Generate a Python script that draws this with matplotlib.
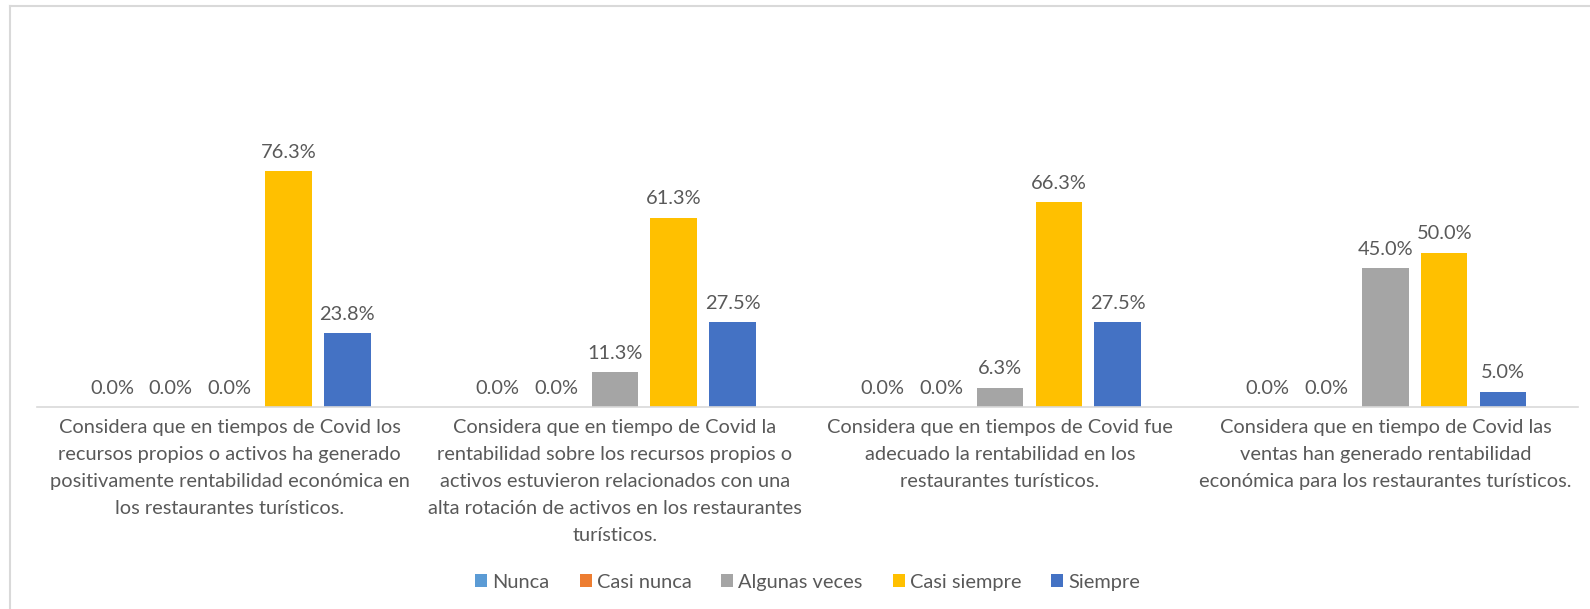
import numpy as np
import matplotlib.pyplot as plt
from matplotlib.lines import Line2D

categories = [
    "Considera que en tiempos de Covid los\nrecursos propios o activos ha generado\n"
    "positivamente rentabilidad económica en\nlos restaurantes turísticos.",
    "Considera que en tiempo de Covid la\nrentabilidad sobre los recursos propios o\n"
    "activos estuvieron relacionados con una\nalta rotación de activos en los restaurantes\nturísticos.",
    "Considera que en tiempos de Covid fue\nadecuado la rentabilidad en los\nrestaurantes turísticos.",
    "Considera que en tiempo de Covid las\nventas han generado rentabilidad\n"
    "económica para los restaurantes turísticos.",
]
series = ["Nunca", "Casi nunca", "Algunas veces", "Casi siempre", "Siempre"]
nunca = [0.0, 0.0, 0.0, 0.0]
casi_nunca = [0.0, 0.0, 0.0, 0.0]
algunas_veces = [0.0, 11.3, 6.3, 45.0]
casi_siempre = [76.3, 61.3, 66.3, 50.0]
siempre = [23.8, 27.5, 27.5, 5.0]
colors = ["#5B9BD5", "#ED7D31", "#A5A5A5", "#FFC000", "#4472C4"]

values = [nunca, casi_nunca, algunas_veces, casi_siempre, siempre]

plt.rcParams['font.family'] = ['Lato', 'DejaVu Sans']
text_color = "#595959"
fs = 14.4

fig = plt.figure(figsize=(15.9, 6.09), dpi=100)
ax = fig.add_axes([37 / 1590, 1 - 407 / 609, 1541 / 1590, 278 / 609])

x = np.arange(len(categories))
step = 0.1526
width = 0.121
for i, (name, vals, col) in enumerate(zip(series, values, colors)):
    bars = ax.bar(x + (i - 2) * step, vals, width, color=col, label=name)
    ax.bar_label(bars, labels=["%.1f%%" % v for v in vals], padding=7.5,
                 fontsize=fs, color=text_color)

ax.set_xlim(-0.5, 3.5)
ax.set_ylim(0, 90)
ax.set_yticks([])
ax.set_xticks(x)
ax.set_xticklabels(categories, fontsize=fs, color=text_color, linespacing=1.7)
ax.tick_params(axis='x', length=0, pad=9)
for s in ["top", "right", "left"]:
    ax.spines[s].set_visible(False)
ax.spines["bottom"].set_color("#D9D9D9")
ax.spines["bottom"].set_linewidth(1.2)

fig.legend(loc="center", bbox_to_anchor=(0.508, 0.044), ncol=5, frameon=False,
           handlelength=0.6, handleheight=0.6, handletextpad=0.25,
           columnspacing=1.5, fontsize=fs, labelcolor=text_color)

# chart border (top and left edges visible)
fig.add_artist(Line2D([10 / 1590, 1], [1 - 6 / 609, 1 - 6 / 609], color="#D9D9D9", lw=1.5))
fig.add_artist(Line2D([10 / 1590, 10 / 1590], [0, 1 - 6 / 609], color="#D9D9D9", lw=1.5))

fig.savefig("out.png", dpi=100)
